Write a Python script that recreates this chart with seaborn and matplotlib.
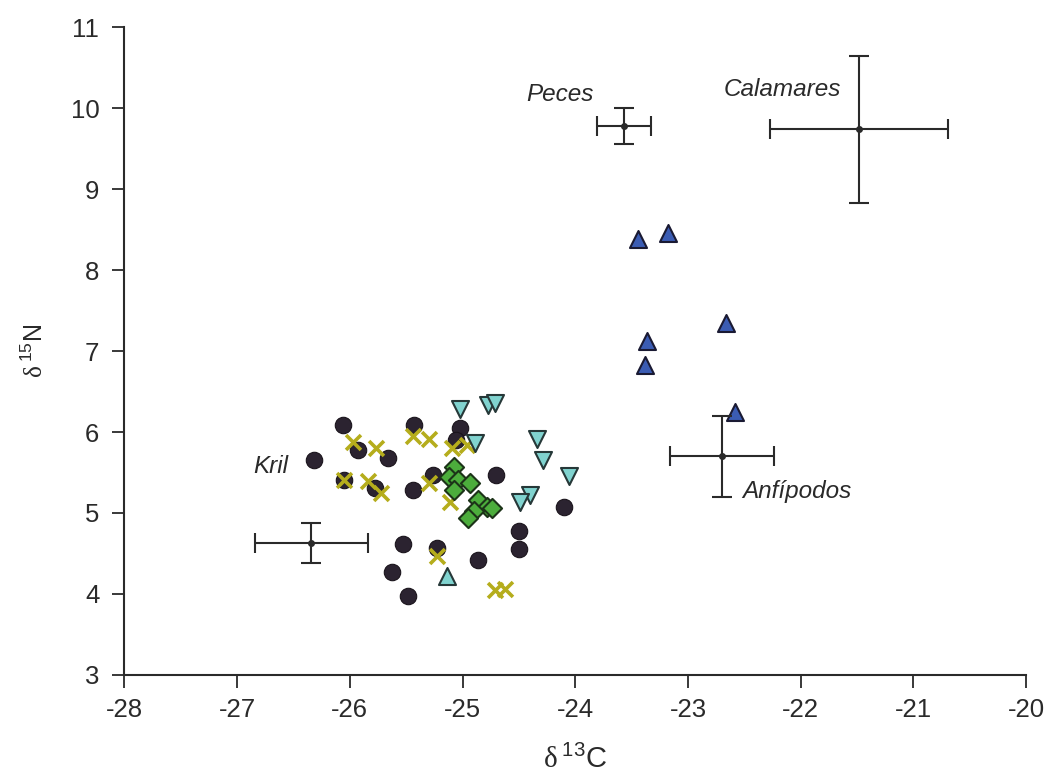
import matplotlib
matplotlib.use('Agg')
import matplotlib.pyplot as plt
import seaborn as sns

sns.set_style('ticks')
plt.rcParams['font.family'] = ['Liberation Sans', 'DejaVu Sans']
plt.rcParams['axes.unicode_minus'] = False
plt.rcParams['mathtext.fontset'] = 'custom'
plt.rcParams['mathtext.rm'] = 'Liberation Serif'
plt.rcParams['mathtext.sf'] = 'Liberation Sans'

# --- data ---
circ_x = [-26.06, -25.43, -26.32, -25.93, -25.66, -25.78, -26.05, -25.44, -25.26, -25.53,
          -25.63, -25.48, -25.23, -25.02, -25.06, -24.70, -24.10, -24.50, -24.50, -24.86]
circ_y = [6.09, 6.09, 5.66, 5.78, 5.68, 5.31, 5.41, 5.29, 5.47, 4.62,
          4.27, 3.98, 4.57, 6.05, 5.90, 5.47, 5.07, 4.78, 4.55, 4.42]

cross_x = [-25.97, -25.77, -25.44, -25.30, -26.05, -25.84, -25.72, -25.30, -25.23, -25.09,
           -24.96, -25.11, -24.71, -24.62]
cross_y = [5.88, 5.80, 5.95, 5.91, 5.41, 5.39, 5.25, 5.37, 4.47, 5.80,
           5.84, 5.14, 4.05, 4.06]

diam_x = [-25.08, -25.12, -25.04, -24.93, -25.08, -24.86, -24.78, -24.74, -24.90, -24.95]
diam_y = [5.57, 5.45, 5.41, 5.37, 5.29, 5.16, 5.08, 5.06, 5.02, 4.94]

tdown_x = [-25.02, -24.77, -24.71, -24.89, -24.34, -24.29, -24.06, -24.40, -24.49]
tdown_y = [6.28, 6.34, 6.36, 5.86, 5.91, 5.66, 5.46, 5.22, 5.13]
tup_cyan_x = [-25.14]
tup_cyan_y = [4.22]

tup_blue_x = [-23.44, -23.18, -22.66, -23.36, -23.38, -22.58]
tup_blue_y = [8.39, 8.46, 7.35, 7.12, 6.83, 6.25]

# prey means and error bars
prey_names = ['Kril', 'Peces', 'Calamares', 'Anfípodos']
prey_x = [-26.34, -23.57, -21.48, -22.70]
prey_y = [4.63, 9.78, 9.74, 5.70]
prey_xerr = [0.50, 0.24, 0.79, 0.46]
prey_yerr = [0.25, 0.22, 0.91, 0.50]

fig, ax = plt.subplots(figsize=(10.45, 7.82), dpi=100)
fig.subplots_adjust(left=0.119, right=0.982, bottom=0.137, top=0.965)

sns.scatterplot(x=circ_x, y=circ_y, marker='o', s=140, color='#2b2330',
                edgecolor='#1a141c', linewidth=0.8, ax=ax, zorder=3)
sns.scatterplot(x=cross_x, y=cross_y, marker='x', s=115, color='#b5ad1c',
                linewidth=2.6, ax=ax, zorder=4)
sns.scatterplot(x=diam_x, y=diam_y, marker='D', s=95, color='#4cad3c',
                edgecolor='#1c3318', linewidth=1.5, ax=ax, zorder=5)
sns.scatterplot(x=tdown_x, y=tdown_y, marker='v', s=150, color='#80d3cf',
                edgecolor='#263838', linewidth=1.5, ax=ax, zorder=5)
sns.scatterplot(x=tup_cyan_x, y=tup_cyan_y, marker='^', s=150, color='#80d3cf',
                edgecolor='#263838', linewidth=1.5, ax=ax, zorder=5)
sns.scatterplot(x=tup_blue_x, y=tup_blue_y, marker='^', s=150, color='#3b5cb3',
                edgecolor='#1a1a33', linewidth=1.5, ax=ax, zorder=5)

ax.errorbar(prey_x, prey_y, xerr=prey_xerr, yerr=prey_yerr, fmt='o', ms=4,
            color='#2a2a2a', ecolor='#2a2a2a', elinewidth=1.5, capsize=7,
            capthick=1.5, zorder=6)

label_pos = {
    'Kril': (-26.86, 5.57, 'left'),
    'Peces': (-23.84, 10.17, 'right'),
    'Calamares': (-22.68, 10.23, 'left'),
    'Anfípodos': (-22.52, 5.26, 'left'),
}
for name in prey_names:
    lx, ly, ha = label_pos[name]
    ax.text(lx, ly, name, fontsize=17.5, fontstyle='italic', ha=ha, va='center',
            color='#2a2a2a')

ax.set_xlim(-28, -20)
ax.set_ylim(3, 11)
ax.set_xticks(range(-28, -19))
ax.set_yticks(range(3, 12))
ax.tick_params(direction='out', length=9, width=1.3, labelsize=18.5,
               colors='#2a2a2a')
ax.tick_params(axis='y', pad=9)
ax.tick_params(axis='x', pad=8)
for side in ['left', 'bottom']:
    ax.spines[side].set_linewidth(1.5)
    ax.spines[side].set_color('#2a2a2a')
sns.despine(ax=ax)

ax.set_xlabel(r'$\mathrm{\delta}\,^{\mathsf{13}}\mathsf{C}$', fontsize=21,
              color='#2a2a2a', labelpad=16)
ax.set_ylabel(r'$\mathrm{\delta}\,^{\mathsf{15}}\mathsf{N}$', fontsize=18,
              color='#2a2a2a', labelpad=16)

fig.savefig('out.png', dpi=100)
